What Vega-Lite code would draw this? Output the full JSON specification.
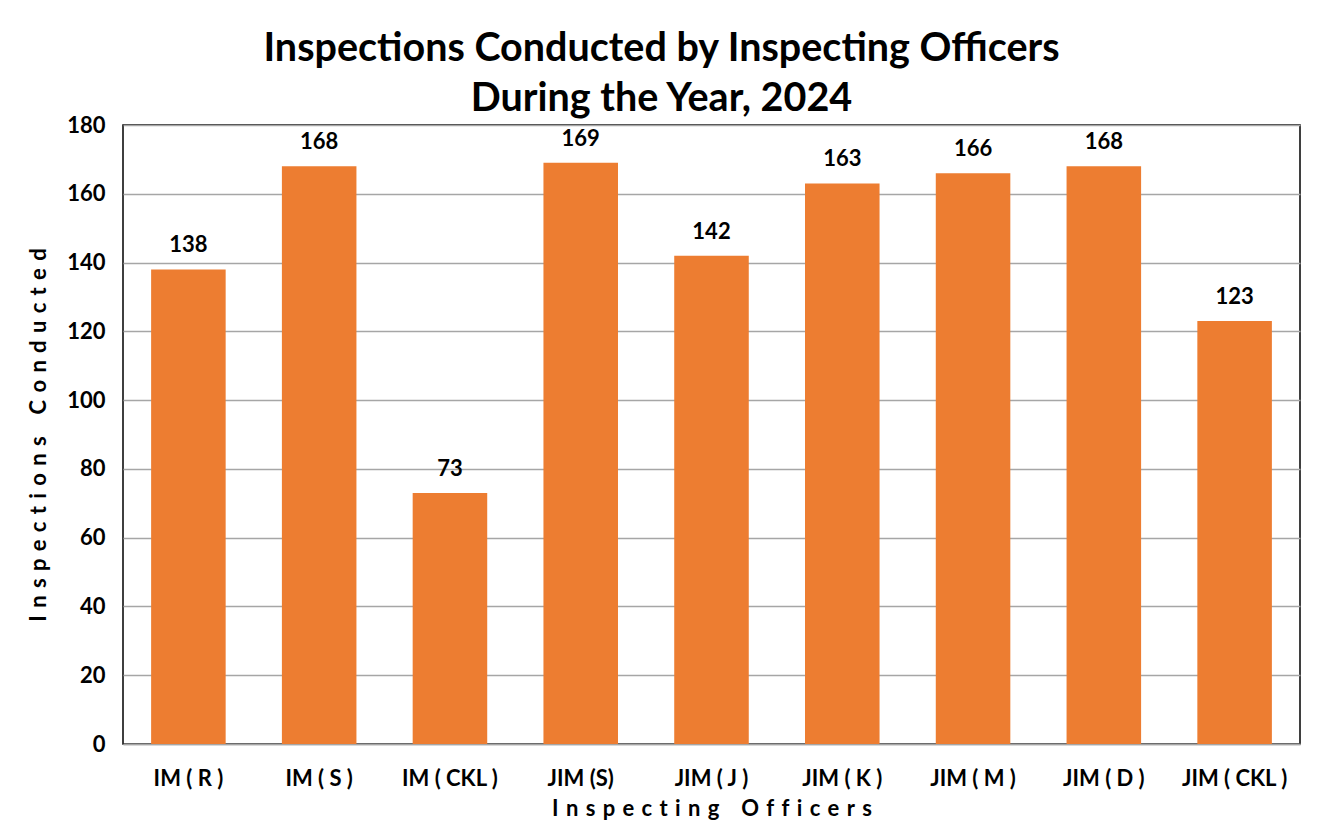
{
  "$schema": "https://vega.github.io/schema/vega-lite/v6.json",
  "width": 1177,
  "height": 619,
  "autosize": "none",
  "padding": {"left": 123, "top": 125, "right": 26, "bottom": 83},
  "background": "white",
  "title": {
    "text": ["Inspections Conducted by Inspecting Officers", "During the Year, 2024"],
    "font": "Lato",
    "fontSize": 39.5,
    "fontWeight": "bold",
    "color": "black",
    "lineHeight": 50,
    "anchor": "middle",
    "offset": 4,
    "dx": -50,
    "dy": 9
  },
  "config": {
    "view": {"stroke": "black", "strokeWidth": 1.5},
    "axis": {
      "labelFont": "Lato",
      "titleFont": "Lato",
      "labelColor": "black",
      "titleColor": "black",
      "labelFontWeight": "bold",
      "titleFontWeight": "bold",
      "labelFontSize": 22,
      "titleFontSize": 22,
      "ticks": false
    }
  },
  "data": {
    "values": [
      {"officer": "IM ( R )", "count": 138},
      {"officer": "IM ( S )", "count": 168},
      {"officer": "IM ( CKL )", "count": 73},
      {"officer": "JIM (S)", "count": 169},
      {"officer": "JIM ( J )", "count": 142},
      {"officer": "JIM ( K )", "count": 163},
      {"officer": "JIM ( M )", "count": 166},
      {"officer": "JIM ( D )", "count": 168},
      {"officer": "JIM ( CKL )", "count": 123}
    ]
  },
  "encoding": {
    "x": {
      "field": "officer",
      "type": "nominal",
      "sort": null,
      "scale": {"paddingInner": 0.43, "paddingOuter": 0.215},
      "axis": {
        "title": "I\u2004n\u2004s\u2004p\u2004e\u2004c\u2004t\u2004i\u2004n\u2004g\u2004\u2004\u2004O\u2004f\u2004f\u2004i\u2004c\u2004e\u2004r\u2004s",
        "labelAngle": 0,
        "labelPadding": 24,
        "titlePadding": 9,
        "domainColor": "#A6A6A6",
        "domainWidth": 1.5,
        "grid": false
      }
    },
    "y": {
      "field": "count",
      "type": "quantitative",
      "scale": {"domain": [0, 180]},
      "axis": {
        "title": "I\u2004n\u2004s\u2004p\u2004e\u2004c\u2004t\u2004i\u2004o\u2004n\u2004s\u2004\u2004\u2004C\u2004o\u2004n\u2004d\u2004u\u2004c\u2004t\u2004e\u2004d",
        "values": [0, 20, 40, 60, 80, 100, 120, 140, 160, 180],
        "labelPadding": 18,
        "titlePadding": 16,
        "domain": false,
        "gridColor": "#A6A6A6",
        "gridWidth": 1.5
      }
    }
  },
  "layer": [
    {"mark": {"type": "bar", "color": "#ED7D31"}},
    {
      "mark": {
        "type": "text",
        "baseline": "bottom",
        "dy": -12,
        "font": "Lato",
        "fontSize": 22,
        "fontWeight": "bold",
        "color": "black"
      },
      "encoding": {"text": {"field": "count", "type": "quantitative"}}
    }
  ]
}
